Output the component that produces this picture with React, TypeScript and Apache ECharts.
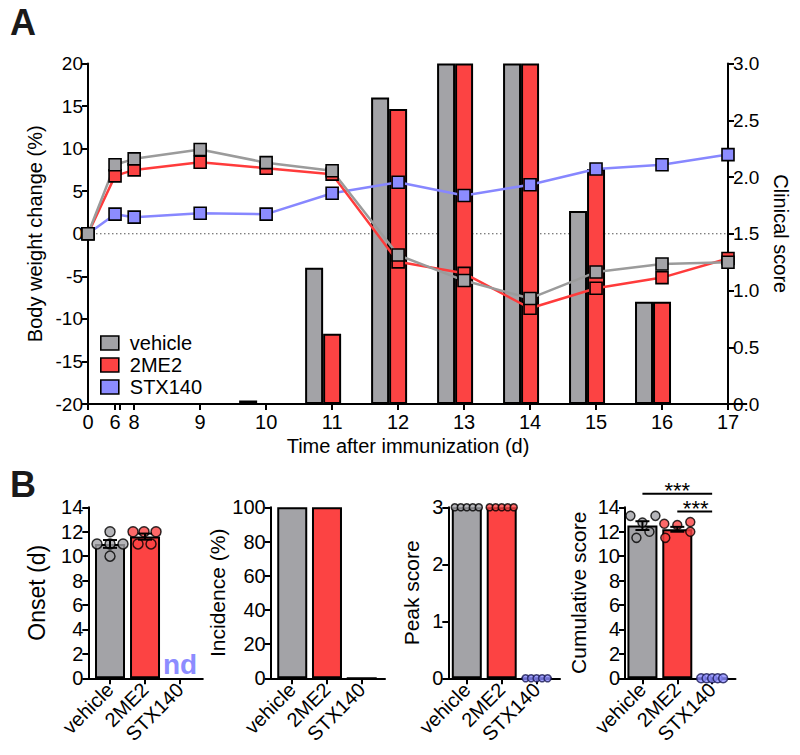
import React, { useEffect, useRef } from 'react';
import * as echarts from 'echarts';

// ---------- DATA ----------
const groups = ['vehicle', '2ME2', 'STX140'];

// Panel A: body weight change (%) per day
const weightDays = [0, 6, 8, 9, 10, 11, 12, 13, 14, 15, 16, 17];
const vehicleWeight = [0, 8.1, 8.8, 9.9, 8.35, 7.4, -2.5, -5.5, -7.6, -4.5, -3.55, -3.35];
const me2Weight = [0, 6.8, 7.5, 8.4, 7.7, 7.0, -3.3, -4.65, -8.75, -6.4, -5.15, -2.9];
const stxWeight = [0, 2.3, 1.95, 2.4, 2.3, 4.75, 6.05, 4.5, 5.75, 7.6, 8.1, 9.3];

// Panel A: clinical score per day
const scoreDays = [6, 8, 9, 10, 11, 12, 13, 14, 15, 16, 17];
const vehicleScore = [0, 0, 0, 0.03, 1.2, 2.7, 3, 3, 1.7, 0.9, 0];
const me2Score = [0, 0, 0, 0, 0.62, 2.6, 3, 3, 2.07, 0.9, 0];
const stxScore = [0, 0, 0, 0, 0, 0, 0, 0, 0, 0, 0];

const xTickDays = [0, 6, 8, 9, 10, 11, 12, 13, 14, 15, 16, 17];

// Panel B
const onsetMean = [11.0, 11.6, 0];
const onsetSem = [0.32, 0.25, 0];
const onsetDots = [[12, 11, 11, 11, 10], [12, 12, 12, 11, 11], []];

const incidence = [100, 100, 0];

const peakMean = [3, 3, 0];
const peakDots = [[3, 3, 3, 3, 3], [3, 3, 3, 3, 3], [0, 0, 0, 0, 0]];

const cumMean = [12.5, 12.2, 0];
const cumSem = [0.36, 0.2, 0];
const cumDots = [[13.3, 13.3, 12.75, 12.0, 11.5], [12.65, 12.55, 12.8, 12.0, 11.5], [0, 0, 0, 0, 0]];

// ---------- STYLE ----------
const FONT = 'Liberation Sans, Arial, sans-serif';
const barColors = ['#a3a3a7', '#fc4343', '#8c8cff'];
const lineColors = ['#9b9b9b', '#ff3b3b', '#8787ff'];

// horizontal scatter spread (px) of dots inside each bar
const onsetJitter = [[0, -13, 0, 13, 0], [-12, -1, 11, -7, 6], []];
const peakJitter = [[-12, -6, 0, 6, 12], [-12, -6, 0, 6, 12], [-11, -5.5, 0, 5.5, 11]];
const cumJitter = [[-12, 13, 0, 7, -6], [-13, 0, 13, 13, -12], [-11, -5.5, 0, 5.5, 11]];

// segmented time axis: days 0-8 are compressed
const dayPos = (d: number) => {
  if (d <= 6) return 7.3 + (d / 6) * 0.41;
  if (d <= 8) return 7.71 + ((d - 6) / 2) * 0.29;
  return d;
};
const dayLabel = (v: number) => {
  const d = xTickDays.find((t) => Math.abs(dayPos(t) - v) < 1e-6);
  return d === undefined ? '' : String(d);
};

const axisLine = { show: true, onZero: false, lineStyle: { color: '#000', width: 2 } };
const axisTick = { show: true, length: 6, lineStyle: { color: '#000', width: 2 } };

const bGrid = [
  { left: 88.3, width: 114.5, min: -0.62, max: 2.65 },
  { left: 270.7, width: 114.3, min: -0.62, max: 2.67 },
  { left: 448.3, width: 111.7, min: -0.53, max: 2.67 },
  { left: 625, width: 110.5, min: -0.5, max: 2.67 },
];
const bY = [
  { name: 'Onset (d)', max: 14, interval: 2, gap: 40, size: 23 },
  { name: 'Incidence (%)', max: 100, interval: 20, gap: 38, size: 21 },
  { name: 'Peak score', max: 3, interval: 1, gap: 26, size: 21 },
  { name: 'Cumulative score', max: 14, interval: 2, gap: 36, size: 21 },
];

function dotSeries(xi: number, yi: number, dots: number[][], jitter: number[][], size: number) {
  const data: any[] = [];
  dots.forEach((arr, g) =>
    arr.forEach((v, k) =>
      data.push({
        value: [g, v],
        symbolOffset: [jitter[g][k], 0],
        itemStyle: { color: barColors[g], borderColor: g === 2 ? '#1a1a55' : '#000', borderWidth: 1.5 },
      })
    )
  );
  return { type: 'scatter', xAxisIndex: xi, yAxisIndex: yi, symbol: 'circle', symbolSize: size, z: 4, data };
}

function barSeriesB(xi: number, yi: number, vals: number[]) {
  return {
    type: 'bar',
    xAxisIndex: xi,
    yAxisIndex: yi,
    barWidth: 30,
    z: 2,
    data: vals.map((v, i) => ({
      value: [i, v],
      itemStyle: { color: barColors[i], borderColor: '#000', borderWidth: 2 },
    })),
  };
}

export default function App() {
  const ref = useRef<HTMLDivElement>(null);

  useEffect(() => {
    if (!ref.current) return;
    const chart = echarts.init(ref.current, undefined, { renderer: 'svg' });

    const grids: any[] = [{ left: 88, top: 63.5, width: 640, height: 340.5 }];
    bGrid.forEach((g) => grids.push({ left: g.left, width: g.width, top: 507.3, height: 171 }));

    const tickPositions = xTickDays.map(dayPos).concat([dayPos(6) + 0.075]);

    const xAxes: any[] = [
      {
        type: 'value',
        gridIndex: 0,
        min: dayPos(0),
        max: 17,
        axisLine,
        axisTick: { ...axisTick, customValues: tickPositions },
        axisLabel: { customValues: xTickDays.map(dayPos), formatter: dayLabel, fontSize: 20, color: '#000', margin: 8 },
        splitLine: { show: false },
        name: 'Time after immunization (d)',
        nameLocation: 'middle',
        nameGap: 32,
        nameTextStyle: { fontSize: 20, color: '#000' },
      },
    ];
    bGrid.forEach((g, i) =>
      xAxes.push({
        type: 'value',
        gridIndex: i + 1,
        min: g.min,
        max: g.max,
        axisLine,
        axisTick: { ...axisTick, customValues: [0, 1, 2] },
        axisLabel: {
          customValues: [0, 1, 2],
          formatter: (v: number) => groups[Math.round(v)],
          rotate: 45,
          fontSize: 20,
          color: '#000',
          margin: 8,
        },
        splitLine: { show: false },
      })
    );

    const yAxes: any[] = [
      {
        type: 'value',
        gridIndex: 0,
        position: 'left',
        min: -20,
        max: 20,
        interval: 5,
        axisLine,
        axisTick,
        axisLabel: { fontSize: 19, color: '#000', margin: 5 },
        splitLine: { show: false },
        name: 'Body weight change (%)',
        nameLocation: 'middle',
        nameGap: 41,
        nameTextStyle: { fontSize: 20, color: '#000' },
      },
      {
        type: 'value',
        gridIndex: 0,
        position: 'right',
        min: 0,
        max: 3,
        interval: 0.5,
        axisLine,
        axisTick,
        axisLabel: { fontSize: 19, color: '#000', margin: 5, formatter: (v: number) => v.toFixed(1) },
        splitLine: { show: false },
        name: 'Clinical score',
        nameLocation: 'middle',
        nameRotate: -90,
        nameGap: 43,
        nameTextStyle: { fontSize: 20, color: '#000' },
      },
    ];
    bY.forEach((y, i) =>
      yAxes.push({
        type: 'value',
        gridIndex: i + 1,
        position: 'left',
        min: 0,
        max: y.max,
        interval: y.interval,
        axisLine,
        axisTick,
        axisLabel: { fontSize: 20, color: '#000', margin: 5 },
        splitLine: { show: false },
        name: y.name,
        nameLocation: 'middle',
        nameGap: y.gap,
        nameTextStyle: { fontSize: y.size, color: '#000' },
      })
    );

    const weights = [vehicleWeight, me2Weight, stxWeight];
    const scores = [vehicleScore, me2Score, stxScore];

    const series: any[] = [];
    groups.forEach((g, i) =>
      series.push({
        name: g,
        type: 'bar',
        xAxisIndex: 0,
        yAxisIndex: 1,
        barWidth: 18,
        barGap: '0%',
        z: 2,
        itemStyle: { color: barColors[i], borderColor: '#000', borderWidth: 2 },
        data: scoreDays.map((d, k) => [dayPos(d), scores[i][k]]),
      })
    );
    [2, 1, 0].forEach((i) =>
      series.push({
        name: groups[i],
        type: 'line',
        xAxisIndex: 0,
        yAxisIndex: 0,
        z: 4,
        symbol: 'rect',
        symbolSize: 12,
        lineStyle: { color: lineColors[i], width: 2.5 },
        itemStyle: { color: barColors[i], borderColor: '#000', borderWidth: 1.6 },
        data: weightDays.map((d, k) => [dayPos(d), weights[i][k]]),
      })
    );

    // Panel B
    series.push(barSeriesB(1, 2, onsetMean.slice(0, 2)));
    series.push(dotSeries(1, 2, onsetDots, onsetJitter, 10));

    series.push(barSeriesB(2, 3, incidence));

    series.push(barSeriesB(3, 4, peakMean));
    series.push(dotSeries(3, 4, peakDots, peakJitter, 7));

    series.push(barSeriesB(4, 5, cumMean));
    series.push(dotSeries(4, 5, cumDots, cumJitter, 9));

    chart.setOption({
      animation: false,
      backgroundColor: '#fff',
      textStyle: { fontFamily: FONT, color: '#000' },
      grid: grids,
      xAxis: xAxes,
      yAxis: yAxes,
      legend: {
        left: 100,
        top: 333,
        orient: 'vertical',
        selectedMode: false,
        itemWidth: 18,
        itemHeight: 14,
        itemGap: 2,
        padding: 0,
        textStyle: { fontSize: 20, color: '#000', fontFamily: FONT, lineHeight: 20, padding: [0, 0, 0, 6] },
        data: groups.map((g, i) => ({
          name: g,
          icon: 'rect',
          itemStyle: { color: barColors[i], borderColor: '#000', borderWidth: 1.6 },
        })),
      },
      series,
    });

    // annotations positioned through the axes
    const p = (grid: number, v: number[]) => chart.convertToPixel({ gridIndex: grid }, v) as number[];
    const st = { stroke: '#000', lineWidth: 2 };
    const graphics: any[] = [];

    // dotted zero line of panel A (behind the bars)
    const z0 = p(0, [dayPos(0), 0]);
    const z1 = p(0, [17, 0]);
    graphics.push({
      type: 'line',
      z: 0,
      shape: { x1: z0[0], y1: z0[1], x2: z1[0], y2: z1[1] },
      style: { stroke: '#555', lineWidth: 1.2, lineDash: [1.5, 2.5] },
    });

    // SEM error bars
    const errBars = (grid: number, mean: number[], sem: number[]) => {
      mean.forEach((m, i) => {
        if (!(sem[i] > 0)) return;
        const t = p(grid, [i, m + sem[i]]);
        const b = p(grid, [i, m - sem[i]]);
        const w = 7;
        graphics.push(
          { type: 'line', z: 10, shape: { x1: t[0], y1: t[1], x2: b[0], y2: b[1] }, style: st },
          { type: 'line', z: 10, shape: { x1: t[0] - w, y1: t[1], x2: t[0] + w, y2: t[1] }, style: st },
          { type: 'line', z: 10, shape: { x1: b[0] - w, y1: b[1], x2: b[0] + w, y2: b[1] }, style: st }
        );
      });
    };
    errBars(1, onsetMean, onsetSem);
    errBars(4, cumMean, cumSem);

    const nd = p(1, [2, 0]);
    const l1a = p(4, [0, 15.1]);
    const l1b = p(4, [2, 15.1]);
    const l2a = p(4, [1, 13.65]);
    const l2b = p(4, [2, 13.65]);
    graphics.push(
      { type: 'text', left: 10, top: 4, style: { text: 'A', font: `bold 36px ${FONT}`, fill: '#1a1a1a' } },
      { type: 'text', left: 10, top: 466, style: { text: 'B', font: `bold 36px ${FONT}`, fill: '#1a1a1a' } },
      {
        type: 'text',
        x: nd[0],
        y: nd[1] - 14,
        style: { text: 'nd', font: `bold 28px ${FONT}`, fill: '#8c8cff', align: 'center', verticalAlign: 'middle' },
      },
      { type: 'line', shape: { x1: l1a[0], y1: l1a[1], x2: l1b[0], y2: l1b[1] }, style: st },
      { type: 'line', shape: { x1: l2a[0], y1: l2a[1], x2: l2b[0], y2: l2b[1] }, style: st },
      {
        type: 'text',
        x: (l1a[0] + l1b[0]) / 2,
        y: l1a[1] - 3,
        style: { text: '***', font: `22px ${FONT}`, fill: '#000', align: 'center', verticalAlign: 'middle' },
      },
      {
        type: 'text',
        x: (l2a[0] + l2b[0]) / 2 + 1,
        y: l2a[1] - 3,
        style: { text: '***', font: `22px ${FONT}`, fill: '#000', align: 'center', verticalAlign: 'middle' },
      }
    );
    chart.setOption({ graphic: graphics });

    return () => chart.dispose();
  }, []);

  return <div ref={ref} style={{ position: 'fixed', left: 0, top: 0, width: 800, height: 755, background: '#fff' }} />;
}
